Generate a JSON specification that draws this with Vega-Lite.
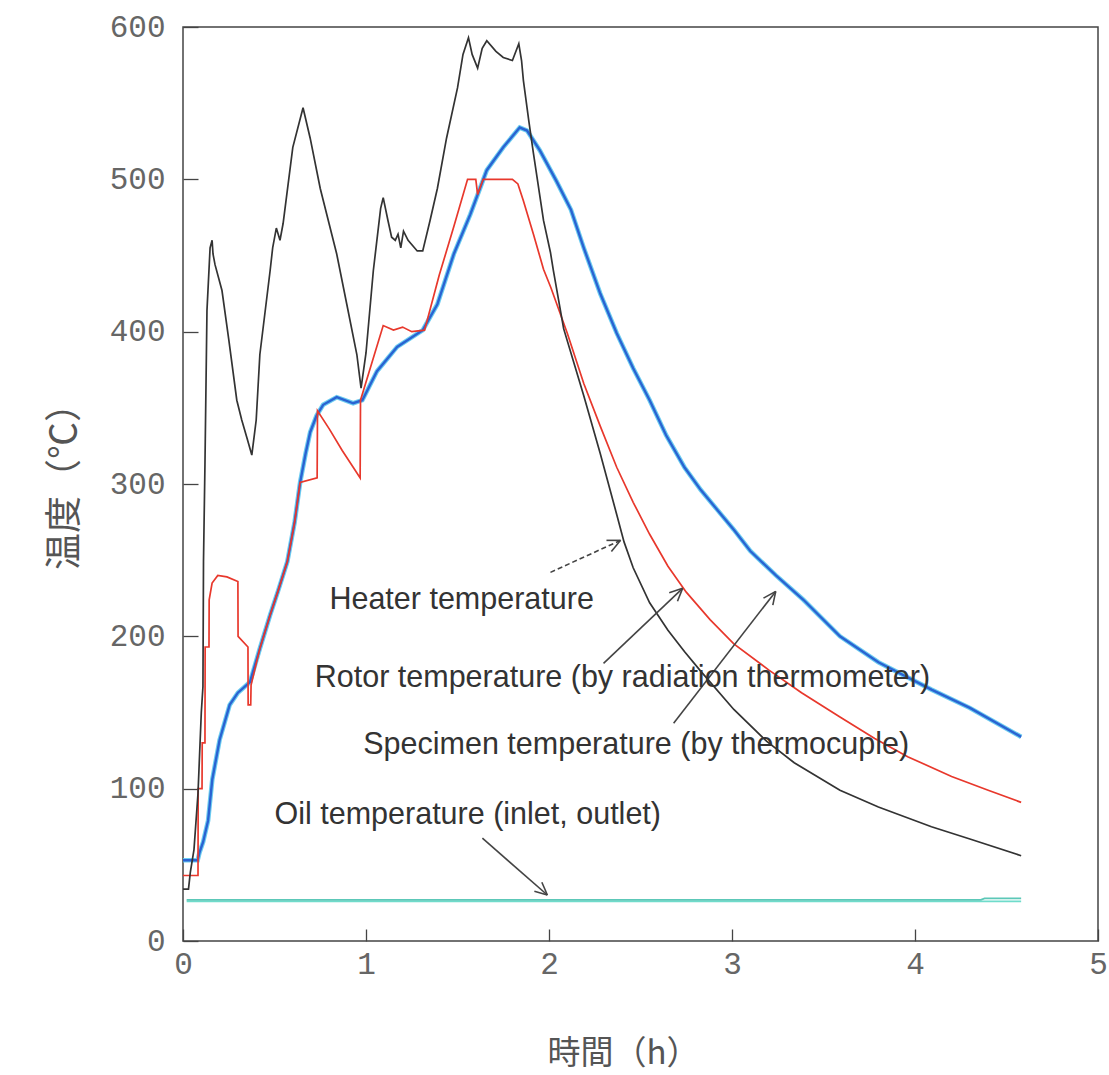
{
  "$schema": "https://vega.github.io/schema/vega-lite/v6.json",
  "width": 915,
  "height": 914,
  "autosize": {"type": "none"},
  "padding": {"left": 183, "top": 27, "right": 11, "bottom": 134},
  "background": "white",
  "config": {
    "view": {"stroke": "#444444", "strokeWidth": 1.5},
    "axis": {
      "grid": false,
      "domain": false,
      "labelFlush": false,
      "tickColor": "#444444",
      "tickWidth": 1.3,
      "labelFont": "Liberation Mono",
      "labelFontSize": 31,
      "labelColor": "#666666",
      "titleFont": "Noto Sans CJK JP",
      "titleFontSize": 35,
      "titleFontWeight": "normal",
      "titleColor": "#555555"
    }
  },
  "datasets": {
    "temps": [
      {"series":"Heater","t":0,"T":34},{"series":"Heater","t":0.03,"T":34},{"series":"Heater","t":0.04,"T":45},{"series":"Heater","t":0.06,"T":60},{"series":"Heater","t":0.082,"T":97},{"series":"Heater","t":0.1,"T":150},{"series":"Heater","t":0.109,"T":167},{"series":"Heater","t":0.112,"T":249},{"series":"Heater","t":0.12,"T":313},{"series":"Heater","t":0.131,"T":414},{"series":"Heater","t":0.148,"T":455},{"series":"Heater","t":0.159,"T":460},{"series":"Heater","t":0.164,"T":451},{"series":"Heater","t":0.175,"T":444},{"series":"Heater","t":0.213,"T":427},{"series":"Heater","t":0.25,"T":395},{"series":"Heater","t":0.294,"T":355},{"series":"Heater","t":0.321,"T":342},{"series":"Heater","t":0.35,"T":330},{"series":"Heater","t":0.376,"T":319},{"series":"Heater","t":0.4,"T":342},{"series":"Heater","t":0.42,"T":385},{"series":"Heater","t":0.476,"T":440},{"series":"Heater","t":0.49,"T":455},{"series":"Heater","t":0.51,"T":468},{"series":"Heater","t":0.53,"T":460},{"series":"Heater","t":0.547,"T":471},{"series":"Heater","t":0.6,"T":521},{"series":"Heater","t":0.656,"T":547},{"series":"Heater","t":0.695,"T":527},{"series":"Heater","t":0.75,"T":494},{"series":"Heater","t":0.84,"T":451},{"series":"Heater","t":0.895,"T":418},{"series":"Heater","t":0.95,"T":385},{"series":"Heater","t":0.973,"T":363},{"series":"Heater","t":1.0,"T":386},{"series":"Heater","t":1.04,"T":440},{"series":"Heater","t":1.08,"T":481},{"series":"Heater","t":1.094,"T":488},{"series":"Heater","t":1.12,"T":473},{"series":"Heater","t":1.14,"T":462},{"series":"Heater","t":1.16,"T":460},{"series":"Heater","t":1.175,"T":464},{"series":"Heater","t":1.19,"T":455},{"series":"Heater","t":1.205,"T":466},{"series":"Heater","t":1.23,"T":460},{"series":"Heater","t":1.28,"T":453},{"series":"Heater","t":1.31,"T":453},{"series":"Heater","t":1.35,"T":473},{"series":"Heater","t":1.39,"T":494},{"series":"Heater","t":1.44,"T":527},{"series":"Heater","t":1.5,"T":560},{"series":"Heater","t":1.53,"T":582},{"series":"Heater","t":1.56,"T":593},{"series":"Heater","t":1.58,"T":582},{"series":"Heater","t":1.61,"T":573},{"series":"Heater","t":1.635,"T":586},{"series":"Heater","t":1.66,"T":591},{"series":"Heater","t":1.71,"T":584},{"series":"Heater","t":1.75,"T":580},{"series":"Heater","t":1.8,"T":578},{"series":"Heater","t":1.835,"T":589},{"series":"Heater","t":1.85,"T":578},{"series":"Heater","t":1.86,"T":565},{"series":"Heater","t":1.89,"T":538},{"series":"Heater","t":1.915,"T":517},{"series":"Heater","t":1.97,"T":473},{"series":"Heater","t":2.008,"T":452},{"series":"Heater","t":2.024,"T":440},{"series":"Heater","t":2.08,"T":402},{"series":"Heater","t":2.14,"T":378},{"series":"Heater","t":2.19,"T":358},{"series":"Heater","t":2.28,"T":320},{"series":"Heater","t":2.37,"T":280},{"series":"Heater","t":2.41,"T":262},{"series":"Heater","t":2.46,"T":245},{"series":"Heater","t":2.55,"T":222},{"series":"Heater","t":2.65,"T":204},{"series":"Heater","t":2.74,"T":190},{"series":"Heater","t":2.83,"T":177},{"series":"Heater","t":3.01,"T":152},{"series":"Heater","t":3.19,"T":131},{"series":"Heater","t":3.34,"T":117},{"series":"Heater","t":3.59,"T":99},{"series":"Heater","t":3.8,"T":88},{"series":"Heater","t":4.09,"T":75},{"series":"Heater","t":4.3,"T":67},{"series":"Heater","t":4.58,"T":56},

      {"series":"Rotor","t":0,"T":43},{"series":"Rotor","t":0.082,"T":43},{"series":"Rotor","t":0.083,"T":100},{"series":"Rotor","t":0.104,"T":100},{"series":"Rotor","t":0.105,"T":130},{"series":"Rotor","t":0.12,"T":130},{"series":"Rotor","t":0.121,"T":193},{"series":"Rotor","t":0.142,"T":193},{"series":"Rotor","t":0.143,"T":224},{"series":"Rotor","t":0.159,"T":235},{"series":"Rotor","t":0.19,"T":240},{"series":"Rotor","t":0.24,"T":239},{"series":"Rotor","t":0.3,"T":236},{"series":"Rotor","t":0.301,"T":200},{"series":"Rotor","t":0.355,"T":193},{"series":"Rotor","t":0.356,"T":155},{"series":"Rotor","t":0.37,"T":155},{"series":"Rotor","t":0.372,"T":168},{"series":"Rotor","t":0.42,"T":192},{"series":"Rotor","t":0.476,"T":214},{"series":"Rotor","t":0.52,"T":230},{"series":"Rotor","t":0.57,"T":249},{"series":"Rotor","t":0.61,"T":275},{"series":"Rotor","t":0.64,"T":301},{"series":"Rotor","t":0.733,"T":304},{"series":"Rotor","t":0.735,"T":348},{"series":"Rotor","t":0.8,"T":336},{"series":"Rotor","t":0.87,"T":322},{"series":"Rotor","t":0.93,"T":311},{"series":"Rotor","t":0.968,"T":304},{"series":"Rotor","t":0.97,"T":355},{"series":"Rotor","t":1.094,"T":404},{"series":"Rotor","t":1.15,"T":401},{"series":"Rotor","t":1.2,"T":403},{"series":"Rotor","t":1.25,"T":400},{"series":"Rotor","t":1.32,"T":401},{"series":"Rotor","t":1.4,"T":437},{"series":"Rotor","t":1.48,"T":469},{"series":"Rotor","t":1.555,"T":500},{"series":"Rotor","t":1.6,"T":500},{"series":"Rotor","t":1.61,"T":490},{"series":"Rotor","t":1.64,"T":500},{"series":"Rotor","t":1.8,"T":500},{"series":"Rotor","t":1.83,"T":497},{"series":"Rotor","t":1.86,"T":486},{"series":"Rotor","t":1.915,"T":464},{"series":"Rotor","t":1.97,"T":441},{"series":"Rotor","t":2.01,"T":429},{"series":"Rotor","t":2.1,"T":399},{"series":"Rotor","t":2.19,"T":366},{"series":"Rotor","t":2.28,"T":338},{"series":"Rotor","t":2.37,"T":311},{"series":"Rotor","t":2.46,"T":288},{"series":"Rotor","t":2.55,"T":267},{"series":"Rotor","t":2.65,"T":246},{"series":"Rotor","t":2.75,"T":229},{"series":"Rotor","t":2.88,"T":211},{"series":"Rotor","t":3.01,"T":195},{"series":"Rotor","t":3.2,"T":178},{"series":"Rotor","t":3.38,"T":163},{"series":"Rotor","t":3.59,"T":147},{"series":"Rotor","t":3.78,"T":133},{"series":"Rotor","t":3.96,"T":121},{"series":"Rotor","t":4.2,"T":108},{"series":"Rotor","t":4.4,"T":99},{"series":"Rotor","t":4.58,"T":91},

      {"series":"Specimen","t":0,"T":53},{"series":"Specimen","t":0.08,"T":53},{"series":"Specimen","t":0.09,"T":58},{"series":"Specimen","t":0.11,"T":65},{"series":"Specimen","t":0.137,"T":79},{"series":"Specimen","t":0.16,"T":106},{"series":"Specimen","t":0.2,"T":132},{"series":"Specimen","t":0.255,"T":155},{"series":"Specimen","t":0.3,"T":163},{"series":"Specimen","t":0.366,"T":170},{"series":"Specimen","t":0.42,"T":192},{"series":"Specimen","t":0.476,"T":214},{"series":"Specimen","t":0.52,"T":230},{"series":"Specimen","t":0.57,"T":249},{"series":"Specimen","t":0.61,"T":275},{"series":"Specimen","t":0.64,"T":301},{"series":"Specimen","t":0.67,"T":320},{"series":"Specimen","t":0.695,"T":334},{"series":"Specimen","t":0.73,"T":345},{"series":"Specimen","t":0.766,"T":352},{"series":"Specimen","t":0.84,"T":357},{"series":"Specimen","t":0.93,"T":353},{"series":"Specimen","t":0.98,"T":355},{"series":"Specimen","t":1.06,"T":374},{"series":"Specimen","t":1.17,"T":390},{"series":"Specimen","t":1.31,"T":401},{"series":"Specimen","t":1.39,"T":418},{"series":"Specimen","t":1.48,"T":451},{"series":"Specimen","t":1.57,"T":477},{"series":"Specimen","t":1.66,"T":506},{"series":"Specimen","t":1.75,"T":521},{"series":"Specimen","t":1.84,"T":534},{"series":"Specimen","t":1.88,"T":532},{"series":"Specimen","t":1.95,"T":519},{"series":"Specimen","t":2.04,"T":499},{"series":"Specimen","t":2.12,"T":480},{"series":"Specimen","t":2.19,"T":455},{"series":"Specimen","t":2.28,"T":425},{"series":"Specimen","t":2.37,"T":399},{"series":"Specimen","t":2.46,"T":376},{"series":"Specimen","t":2.55,"T":355},{"series":"Specimen","t":2.64,"T":332},{"series":"Specimen","t":2.74,"T":311},{"series":"Specimen","t":2.83,"T":296},{"series":"Specimen","t":2.92,"T":283},{"series":"Specimen","t":3.01,"T":270},{"series":"Specimen","t":3.1,"T":256},{"series":"Specimen","t":3.24,"T":240},{"series":"Specimen","t":3.39,"T":224},{"series":"Specimen","t":3.59,"T":200},{"series":"Specimen","t":3.8,"T":183},{"series":"Specimen","t":4.09,"T":165},{"series":"Specimen","t":4.3,"T":153},{"series":"Specimen","t":4.58,"T":134},

      {"series":"Oil inlet","t":0.02,"T":26},{"series":"Oil inlet","t":4.58,"T":26},
      {"series":"Oil outlet","t":0.02,"T":27},{"series":"Oil outlet","t":4.36,"T":27},{"series":"Oil outlet","t":4.38,"T":28},{"series":"Oil outlet","t":4.58,"T":28}
    ],
    "labels": [
      {"label":"Heater temperature","t":0.80,"T":218},
      {"label":"Rotor temperature (by radiation thermometer)","t":0.72,"T":167},
      {"label":"Specimen temperature (by thermocuple)","t":0.985,"T":123},
      {"label":"Oil temperature (inlet, outlet)","t":0.50,"T":77}
    ],
    "arrows": [
      {"arrow":"Heater","part":"shaft","t":2.008,"T":242.0,"t2":2.391,"T2":263.0},
      {"arrow":"Heater","part":"barb","t":2.391,"T":263.0,"t2":2.314,"T2":263.0},
      {"arrow":"Heater","part":"barb","t":2.391,"T":263.0,"t2":2.341,"T2":255.7},
      {"arrow":"Rotor","part":"shaft","t":2.298,"T":182.3,"t2":2.730,"T2":231.5},
      {"arrow":"Rotor","part":"barb","t":2.730,"T":231.5,"t2":2.657,"T2":228.6},
      {"arrow":"Rotor","part":"barb","t":2.730,"T":231.5,"t2":2.702,"T2":223.0},
      {"arrow":"Specimen","part":"shaft","t":2.681,"T":143.0,"t2":3.239,"T2":229.5},
      {"arrow":"Specimen","part":"barb","t":3.239,"T":229.5,"t2":3.172,"T2":225.1},
      {"arrow":"Specimen","part":"barb","t":3.239,"T":229.5,"t2":3.223,"T2":220.5},
      {"arrow":"Oil","part":"shaft","t":1.636,"T":67.5,"t2":1.991,"T2":30.2},
      {"arrow":"Oil","part":"barb","t":1.991,"T":30.2,"t2":1.961,"T2":38.6},
      {"arrow":"Oil","part":"barb","t":1.991,"T":30.2,"t2":1.920,"T2":32.7}
    ]
  },
  "layer": [
    {
      "data": {"name": "temps"},
      "transform": [{"filter": "datum.series === 'Oil inlet' || datum.series === 'Oil outlet'"}],
      "mark": {"type": "line", "strokeWidth": 1.8, "clip": true},
      "encoding": {
        "x": {"field": "t", "type": "quantitative", "scale": {"domain": [0, 5], "nice": false}, "axis": {"values": [0,1,2,3,4,5], "format": "d", "title": "時間（h）", "offset": -12, "tickSize": 12, "labelPadding": 8, "titleX": 440, "titleY": 124, "titleBaseline": "middle", "titleAlign": "center", "titleFontSize": 33}},
        "y": {"field": "T", "type": "quantitative", "scale": {"domain": [0, 600], "nice": false}, "axis": {"values": [0,100,200,300,400,500,600], "format": "d", "title": "温度（℃）", "offset": -15, "tickSize": 15, "labelPadding": 18, "titleX": -133, "titleY": 450, "titleBaseline": "middle", "titleAlign": "center", "titleAngle": -90, "titleFontSize": 37}},
        "detail": {"field": "series"},
        "color": {"field": "series", "type": "nominal", "scale": {"domain": ["Oil inlet", "Oil outlet"], "range": ["#6fdccb", "#5cc8b8"]}, "legend": null}
      }
    },
    {
      "data": {"name": "temps"},
      "transform": [{"filter": "datum.series === 'Specimen'"}],
      "mark": {"type": "line", "strokeWidth": 4.6, "color": "#5cc6ee", "opacity": 0.9},
      "encoding": {"x": {"field": "t", "type": "quantitative"}, "y": {"field": "T", "type": "quantitative"}}
    },
    {
      "data": {"name": "temps"},
      "transform": [{"filter": "datum.series === 'Specimen'"}],
      "mark": {"type": "line", "strokeWidth": 2.4, "color": "#2a63d2"},
      "encoding": {"x": {"field": "t", "type": "quantitative"}, "y": {"field": "T", "type": "quantitative"}}
    },
    {
      "data": {"name": "temps"},
      "transform": [{"filter": "datum.series === 'Rotor'"}],
      "mark": {"type": "line", "strokeWidth": 1.7, "color": "#e8382c"},
      "encoding": {"x": {"field": "t", "type": "quantitative"}, "y": {"field": "T", "type": "quantitative"}}
    },
    {
      "data": {"name": "temps"},
      "transform": [{"filter": "datum.series === 'Heater'"}],
      "mark": {"type": "line", "strokeWidth": 1.7, "color": "#333333"},
      "encoding": {"x": {"field": "t", "type": "quantitative"}, "y": {"field": "T", "type": "quantitative"}}
    },
    {
      "data": {"name": "arrows"},
      "transform": [{"filter": "datum.arrow === 'Heater' && datum.part === 'shaft'"}],
      "mark": {"type": "rule", "strokeWidth": 1.6, "color": "#444444", "strokeDash": [5, 3]},
      "encoding": {"x": {"field": "t", "type": "quantitative"}, "y": {"field": "T", "type": "quantitative"}, "x2": {"field": "t2"}, "y2": {"field": "T2"}}
    },
    {
      "data": {"name": "arrows"},
      "transform": [{"filter": "!(datum.arrow === 'Heater' && datum.part === 'shaft')"}],
      "mark": {"type": "rule", "strokeWidth": 1.6, "color": "#444444"},
      "encoding": {"x": {"field": "t", "type": "quantitative"}, "y": {"field": "T", "type": "quantitative"}, "x2": {"field": "t2"}, "y2": {"field": "T2"}}
    },
    {
      "data": {"name": "labels"},
      "mark": {"type": "text", "align": "left", "baseline": "alphabetic", "font": "Liberation Sans", "fontSize": 30.5, "color": "#333333"},
      "encoding": {"x": {"field": "t", "type": "quantitative"}, "y": {"field": "T", "type": "quantitative"}, "text": {"field": "label"}}
    }
  ]
}
